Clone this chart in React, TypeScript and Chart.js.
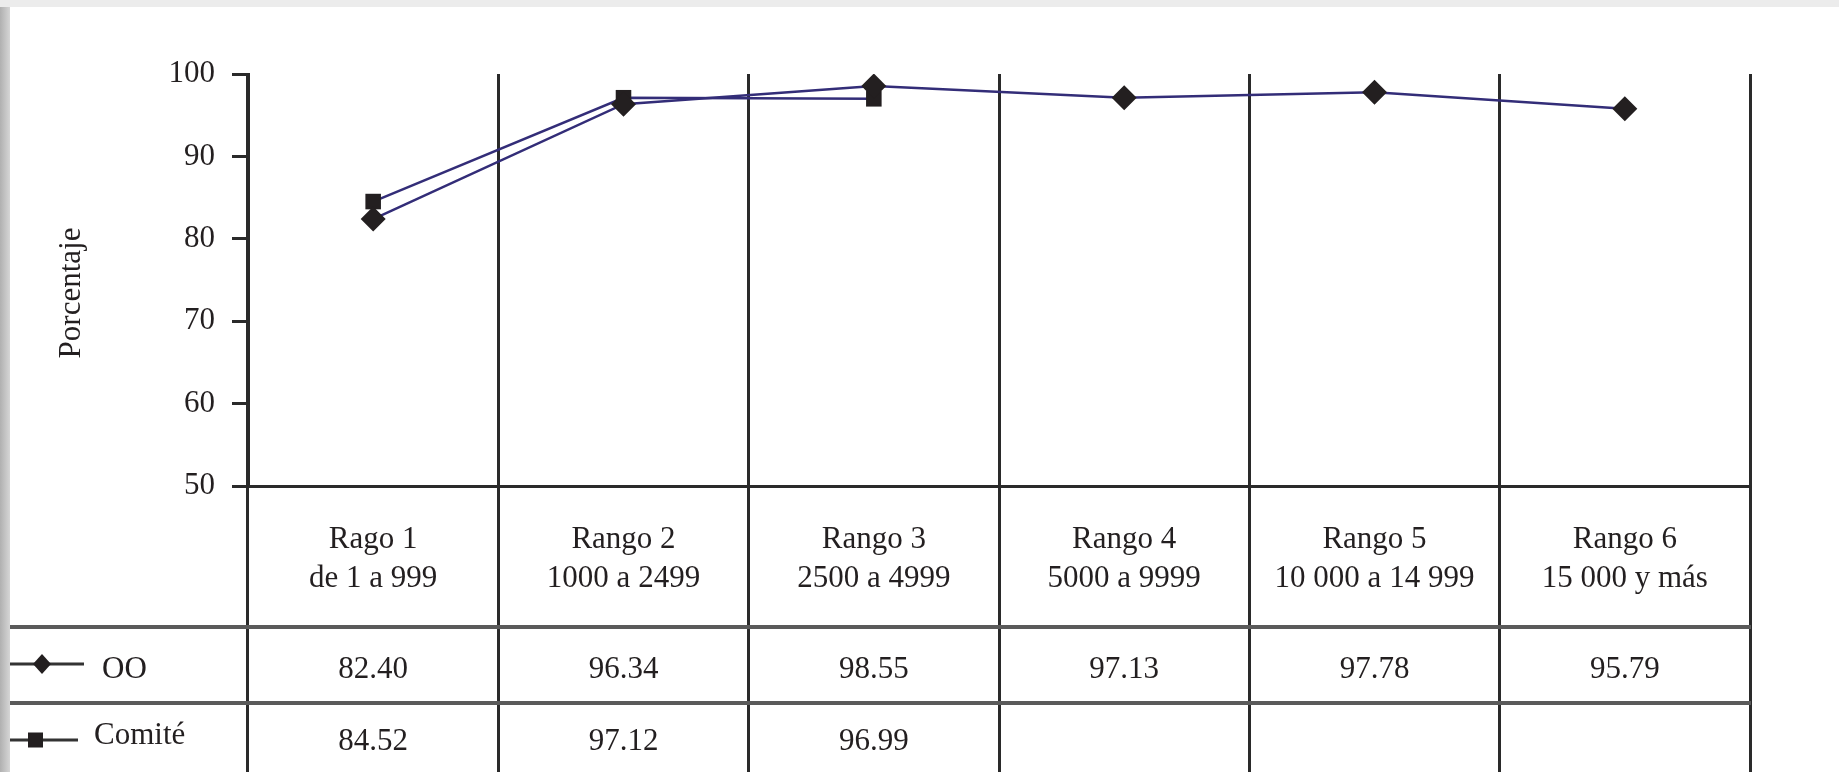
import React, { useEffect, useRef } from 'react';
import { Chart, registerables } from 'chart.js';

Chart.register(...registerables);

// ---- data ----
const categoryTitles = ['Rago 1', 'Rango 2', 'Rango 3', 'Rango 4', 'Rango 5', 'Rango 6'];
const categoryRanges = ['de 1 a 999', '1000 a 2499', '2500 a 4999', '5000 a 9999', '10 000 a 14 999', '15 000 y más'];
const ooValues: (number | null)[] = [82.4, 96.34, 98.55, 97.13, 97.78, 95.79];
const comiteValues: (number | null)[] = [84.52, 97.12, 96.99, null, null, null];
const seriesNames = ['OO', 'Comité'];
const yTitle = 'Porcentaje';
const yMin = 50;
const yMax = 100;
const yStep = 10;

// ---- layout / style ----
const W = 1839;
const H = 772;
const FONT = '31px "Liberation Serif", "Times New Roman", serif';
const TEXT = '#231f20';
const LINE = '#332d78';
const RULE = '#2a2a2a';
const TABLE_RULES = [627, 703];
const HEADER_BASELINES = [548, 587];
const ROW_BASELINES = [678, 750];
const ROW_CENTERS = [664, 737];

const fmt = (v: number | null) => (v == null ? '' : v.toFixed(2));

const tablePlugin = {
  id: 'tablePlugin',
  beforeDraw(chart: any) {
    const { ctx, width, height } = chart;
    ctx.save();
    ctx.fillStyle = '#ffffff';
    ctx.fillRect(0, 0, width, height);
    ctx.fillStyle = '#ececec';
    ctx.fillRect(0, 0, width, 7);
    const g = ctx.createLinearGradient(0, 0, 10, 0);
    g.addColorStop(0, '#b0b0b0');
    g.addColorStop(1, '#d6d6d6');
    ctx.fillStyle = g;
    ctx.fillRect(0, 7, 10, height);
    ctx.restore();
  },
  afterDraw(chart: any) {
    const { ctx } = chart;
    const xs = chart.scales.x;
    const area = chart.chartArea;
    ctx.save();

    // table horizontal rules
    ctx.strokeStyle = '#5a5a5a';
    ctx.lineWidth = 4;
    TABLE_RULES.forEach((y) => {
      ctx.beginPath();
      ctx.moveTo(10, y);
      ctx.lineTo(area.right + 1, y);
      ctx.stroke();
    });

    ctx.fillStyle = TEXT;
    ctx.font = FONT;
    ctx.textAlign = 'center';
    ctx.textBaseline = 'alphabetic';

    // header labels
    categoryTitles.forEach((t, i) => {
      const cx = xs.getPixelForValue(i);
      ctx.fillText(t, cx, HEADER_BASELINES[0]);
      ctx.fillText(categoryRanges[i], cx, HEADER_BASELINES[1]);
    });

    // value rows
    [ooValues, comiteValues].forEach((arr, r) => {
      arr.forEach((v, i) => {
        const cx = xs.getPixelForValue(i);
        ctx.fillText(fmt(v), cx, ROW_BASELINES[r]);
      });
    });

    // legend keys in the first column
    ctx.strokeStyle = '#333';
    ctx.lineWidth = 3;
    // OO
    let y = ROW_CENTERS[0];
    ctx.beginPath();
    ctx.moveTo(10, y);
    ctx.lineTo(84, y);
    ctx.stroke();
    ctx.fillStyle = TEXT;
    ctx.beginPath();
    ctx.moveTo(42, y - 10);
    ctx.lineTo(51, y);
    ctx.lineTo(42, y + 10);
    ctx.lineTo(33, y);
    ctx.closePath();
    ctx.fill();
    ctx.textAlign = 'left';
    ctx.fillText(seriesNames[0], 102, ROW_BASELINES[0]);
    // Comité
    y = ROW_CENTERS[1] + 3;
    ctx.beginPath();
    ctx.moveTo(10, y);
    ctx.lineTo(78, y);
    ctx.stroke();
    ctx.fillRect(28, y - 7.5, 15, 15);
    ctx.fillText(seriesNames[1], 94, ROW_BASELINES[1] - 6);

    // y title
    ctx.save();
    ctx.translate(72, 293);
    ctx.rotate(-Math.PI / 2);
    ctx.textAlign = 'center';
    ctx.textBaseline = 'middle';
    ctx.fillText(yTitle, 0, 0);
    ctx.restore();

    ctx.restore();
  },
};

export default function App() {
  const ref = useRef<HTMLCanvasElement | null>(null);
  useEffect(() => {
    if (!ref.current) return;
    const chart = new Chart(ref.current, {
      type: 'line',
      data: {
        labels: categoryTitles,
        datasets: [
          {
            label: seriesNames[0],
            data: ooValues,
            borderColor: LINE,
            borderWidth: 2.5,
            pointStyle: 'rectRot',
            pointRadius: 12.5,
            pointBackgroundColor: TEXT,
            pointBorderColor: TEXT,
            pointBorderWidth: 0,
            fill: false,
            tension: 0,
          },
          {
            label: seriesNames[1],
            data: comiteValues,
            borderColor: LINE,
            borderWidth: 2.5,
            pointStyle: 'rect',
            pointRadius: 11,
            pointBackgroundColor: TEXT,
            pointBorderColor: TEXT,
            pointBorderWidth: 0,
            fill: false,
            spanGaps: false,
            tension: 0,
          },
        ],
      },
      options: {
        animation: false,
        responsive: false,
        devicePixelRatio: 1,
        layout: { padding: { left: 0, top: 74, right: W - 1750, bottom: 0 } },
        plugins: { legend: { display: false }, tooltip: { enabled: false } },
        scales: {
          x: {
            type: 'category',
            offset: true,
            grid: {
              display: true,
              offset: true,
              color: RULE,
              lineWidth: 3,
              drawOnChartArea: true,
              drawTicks: true,
              tickLength: H - 486,
            },
            border: { display: true, color: RULE, width: 3 },
            ticks: { display: false },
            afterFit: (s: any) => {
              s.height = H - 486;
            },
          },
          y: {
            min: yMin,
            max: yMax,
            ticks: {
              stepSize: yStep,
              color: TEXT,
              font: { family: '"Liberation Serif", "Times New Roman", serif', size: 31 },
              padding: 17,
            },
            grid: {
              drawOnChartArea: false,
              drawTicks: true,
              tickLength: 16,
              color: RULE,
              lineWidth: 3,
            },
            border: { display: true, color: RULE, width: 3 },
            afterFit: (s: any) => {
              s.width = 248;
            },
          },
        },
      },
      plugins: [tablePlugin],
    });
    return () => chart.destroy();
  }, []);
  return (
    <div style={{ position: 'fixed', left: 0, top: 0, width: W, height: H, background: '#fff' }}>
      <canvas ref={ref} width={W} height={H} style={{ width: W, height: H, display: 'block' }} />
    </div>
  );
}
